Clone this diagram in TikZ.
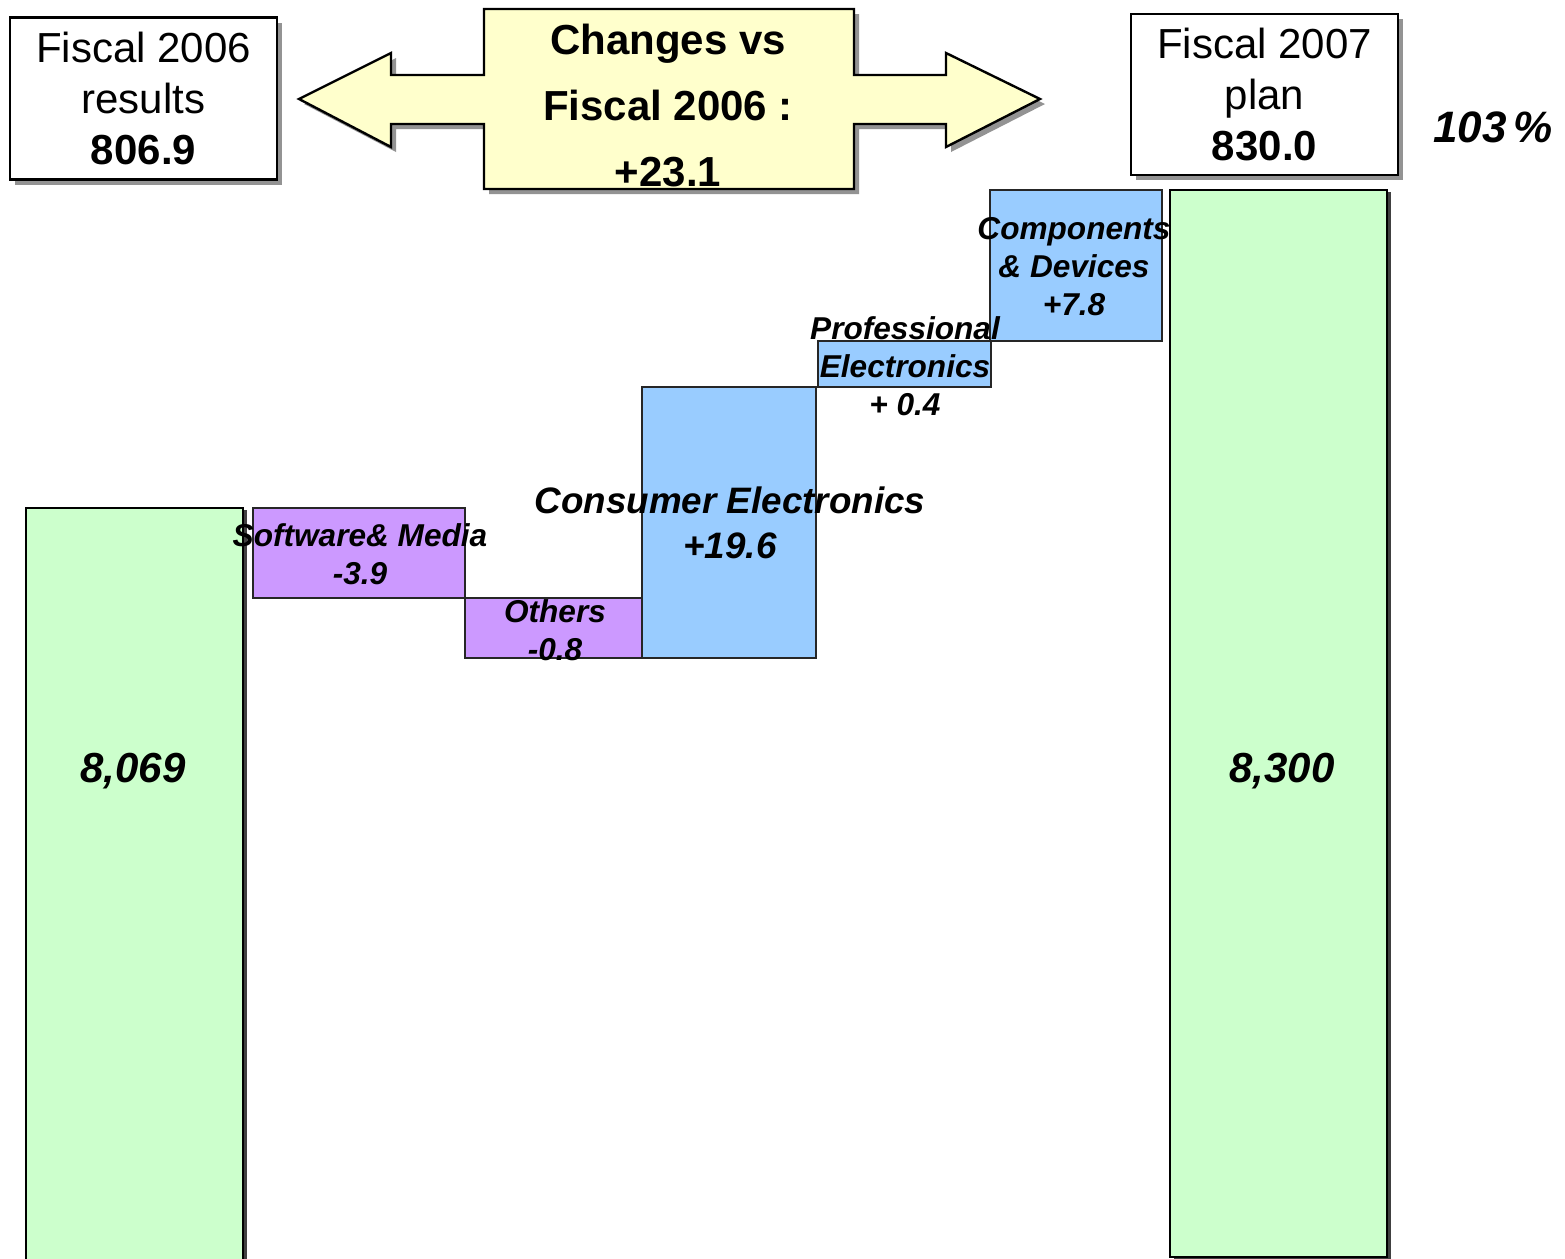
\documentclass[tikz,border=0pt]{standalone}
\usepackage{fontspec}
\setmainfont{Liberation Sans}
\usepackage{tikz}
\usetikzlibrary{shadows}
\definecolor{boxyellow}{HTML}{FFFFCC}
\definecolor{barmint}{HTML}{CCFFCC}
\definecolor{barlilac}{HTML}{CC99FF}
\definecolor{barsky}{HTML}{99CCFF}

\begin{document}
\begin{tikzpicture}[
    x=0.5pt, y=-0.5pt,
    % define styles
    shade/.style={
        drop shadow={shadow xshift=2.5pt, shadow yshift=-2.5pt, fill=gray!85, opacity=1}
    },
    result/.style={
        draw,
        rectangle,
        fill=white,
        line width=1.2pt,
        shade,
        align=center,
        minimum width=133.5pt,
        minimum height=81pt,
        font=\fontsize{21}{25.5}\selectfont
    },
    total/.style={
        draw,
        fill=barmint,
        line width=1pt,
        drop shadow={shadow xshift=2pt, shadow yshift=-1pt, fill=black!75, opacity=1}
    },
    delta/.style={
        draw=black!85,
        line width=0.8pt
    },
    lbl/.style={
        align=center,
        inner sep=0pt,
        font=\fontsize{15.8}{19}\bfseries\itshape\selectfont
    },
    big/.style={
        inner sep=0pt,
        font=\fontsize{21}{25}\bfseries\itshape\selectfont
    }
]
\useasboundingbox (0,0) rectangle (1565,1259);

% Top boxes
\node[result] (fy06) at (143.5,98.5) {Fiscal 2006\\ results\\ \textbf{806.9}};
\node[result, minimum height=80.5pt] (fy07) at (1264.5,94.5) {Fiscal 2007\\ plan\\ \textbf{830.0}};
\node[big, font=\fontsize{22}{25}\bfseries\itshape\selectfont] (ratio) at (1493,127) {103\,\%};

% Double arrow with the change
\draw[fill=boxyellow, line width=1.2pt, shade]
    (299,99) -- (391,53) -- (391,75) -- (484,75) -- (484,9) -- (854,9)
    -- (854,75) -- (946,75) -- (946,53) -- (1040,99) -- (946,147)
    -- (946,124) -- (854,124) -- (854,189) -- (484,189) -- (484,124)
    -- (391,124) -- (391,147) -- cycle;
\node[align=center, inner sep=0pt, font=\fontsize{21}{33}\bfseries\selectfont]
    (change) at (668,106) {Changes vs\\ Fiscal 2006 :\\ +23.1};

% Totals
\draw[total] (26,1270) -- (26,508) -- (243,508) -- (243,1270);
\draw[total] (1170,190) rectangle (1387,1257);
\node[big] (v06) at (133,771) {8,069};
\node[big] (v07) at (1282,771) {8,300};

% Steps of the waterfall
\draw[delta, fill=barlilac] (253,508) rectangle (465,598);
\draw[delta, fill=barlilac] (465,598) rectangle (642,658);
\draw[delta, fill=barsky] (642,387) rectangle (816,658);
\draw[delta, fill=barsky] (818,341) rectangle (991,387);
\draw[delta, fill=barsky] (990,190) rectangle (1162,341);

% Step labels
\node[lbl] (sm) at (360,554) {Software\& Media\\ -3.9};
\node[lbl] (oth) at (555,630) {Others\\ -0.8};
\node[lbl, font=\fontsize{18.4}{22.5}\bfseries\itshape\selectfont] (ce) at (730,523) {Consumer Electronics\\ +19.6};
\node[lbl] (pe) at (905,366) {Professional\\ Electronics\\ + 0.4};
\node[lbl] (cd) at (1074,267) {Components\\ \& Devices\\ +7.8};
\end{tikzpicture}
\end{document}
